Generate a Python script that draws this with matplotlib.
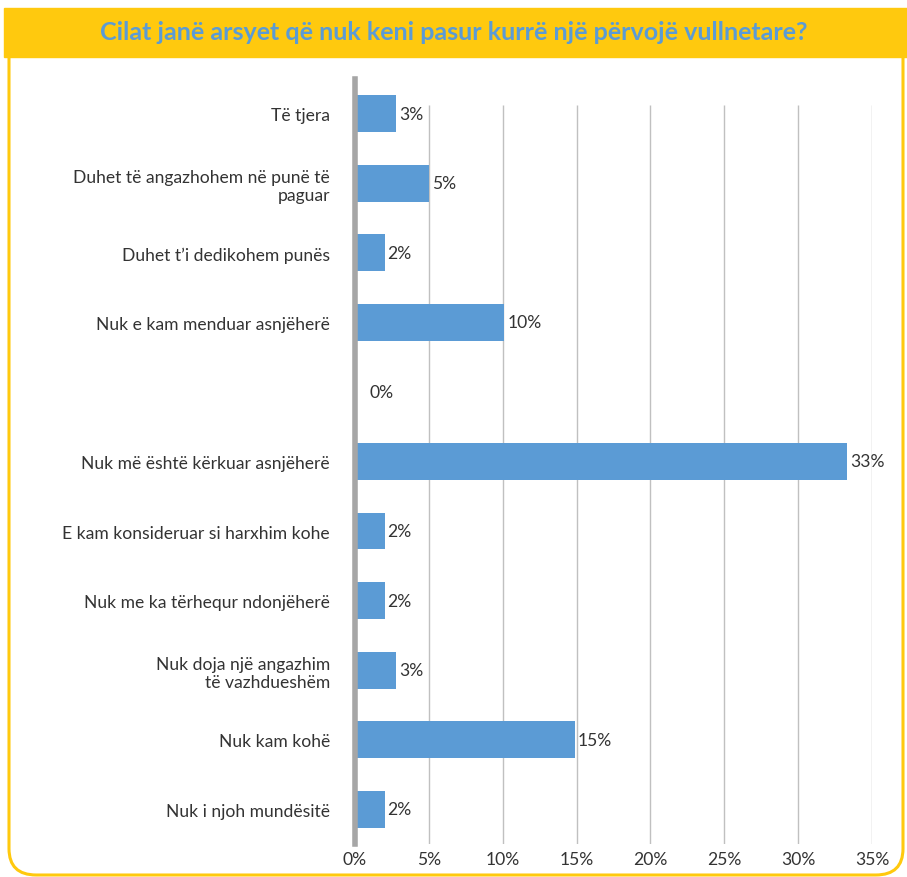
import matplotlib
matplotlib.use('Agg')
import matplotlib.pyplot as plt
from matplotlib.patches import FancyBboxPatch, Rectangle
import numpy as np

plt.rcParams['font.family'] = ['Lato', 'DejaVu Sans']

# answers, top to bottom as in the chart
categories = ['Të tjera',
              'Duhet të angazhohem në punë të\npaguar',
              'Duhet t\u2019i dedikohem punës',
              'Nuk e kam menduar asnjëherë',
              '',
              'Nuk më është kërkuar asnjëherë',
              'E kam konsideruar si harxhim kohe',
              'Nuk me ka tërhequr ndonjëherë',
              'Nuk doja një angazhim\ntë vazhdueshëm',
              'Nuk kam kohë',
              'Nuk i njoh mundësitë']
values = [2.8, 5.0, 2.0, 10.1, 0.0, 33.3, 2.0, 2.0, 2.8, 14.9, 2.0]
xticks = [0, 5, 10, 15, 20, 25, 30, 35]

title = 'Cilat janë arsyet që nuk keni pasur kurrë një përvojë vullnetare?'
yellow = '#FFC90E'
blue = '#5B9BD5'
fs = 12.6

fig = plt.figure(figsize=(9.07, 8.78), dpi=100)

# rounded yellow frame and title band
frame = FancyBboxPatch((9/907, 2/878), 894/907, 860/878,
                       boxstyle='round,pad=0,rounding_size=0.03',
                       transform=fig.transFigure, fill=False,
                       edgecolor=yellow, linewidth=2.2, zorder=0)
fig.patches.append(frame)
fig.patches.append(Rectangle((4/907, 1 - 58/878), 903/907, 49/878,
                             transform=fig.transFigure, color=yellow, zorder=1))
fig.text(0.5, 1 - 33/878, title, ha='center', va='center',
         fontsize=18, fontweight='bold', color=blue)

ax = fig.add_axes([355/907, 1 - 845/878, (872 - 355)/907, (845 - 80)/878])
y = np.arange(len(categories))
ax.barh(y, values, height=0.53, color=blue, zorder=3)
ax.set_ylim(len(categories) - 0.5, -0.5)
ax.set_xlim(0, 35)

# gridlines stop a little below the top of the axis line, as in the original
ax.vlines(xticks[1:], len(categories) - 0.5, -0.13, color='#c0c0c0', linewidth=1, zorder=0)

for yi, v in zip(y, values):
    ax.text(v + 0.2 if v > 0 else 1.0, yi, '%d%%' % round(v), va='center', ha='left',
            fontsize=fs, color='#333333', zorder=4)

ax.set_yticks(y)
ax.set_yticklabels(categories, fontsize=fs, color='#333333')
ax.set_xticks(xticks)
ax.set_xticklabels(['%d%%' % t for t in xticks], fontsize=fs, color='#333333')
ax.tick_params(axis='y', length=0, pad=18)
ax.tick_params(axis='x', length=0, pad=5)
for lbl in ax.get_yticklabels():
    lbl.set_multialignment('right')

for s in ['top', 'right', 'bottom']:
    ax.spines[s].set_visible(False)
ax.spines['left'].set_color('#a6a6a6')
ax.spines['left'].set_linewidth(4)
ax.spines['left'].set_zorder(5)

fig.savefig('out.png', dpi=100)
